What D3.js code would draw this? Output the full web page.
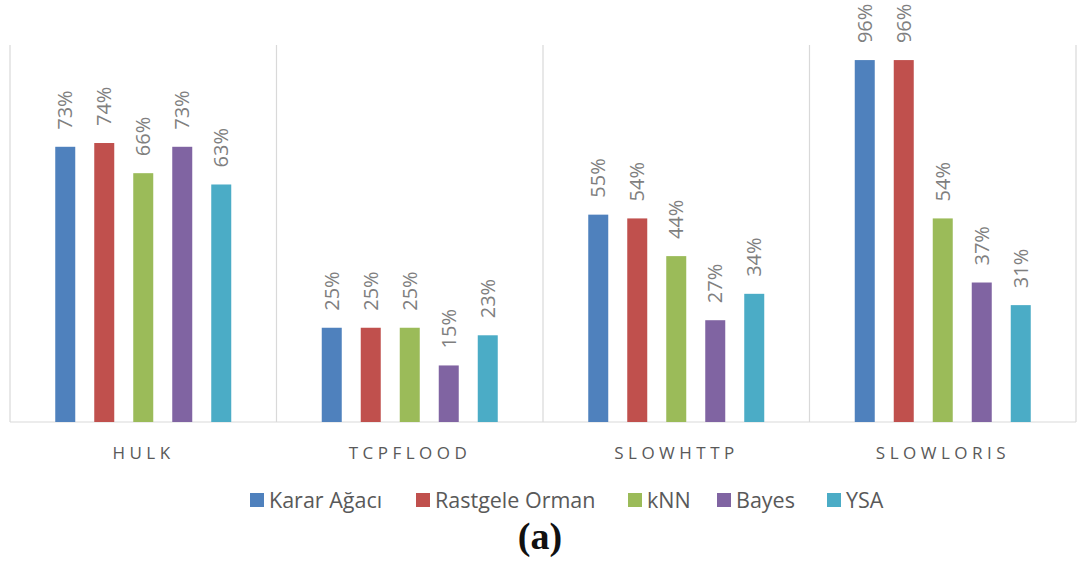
<!DOCTYPE html>
<html>
<head>
<meta charset="utf-8">
<script src="https://cdn.jsdelivr.net/npm/d3@7"></script>
<style>
  body { margin: 0; background: #fff; }
  .sans { font-family: "Open Sans", Lato, sans-serif; }
</style>
</head>
<body>
<div id="chart"></div>
<script>
const categories = ["HULK", "TCPFLOOD", "SLOWHTTP", "SLOWLORIS"];
const seriesNames = ["Karar Ağacı", "Rastgele Orman", "kNN", "Bayes", "YSA"];
const karar = [0.73, 0.25, 0.55, 0.96];
const rastgele = [0.74, 0.25, 0.54, 0.96];
const knn = [0.66, 0.25, 0.44, 0.54];
const bayes = [0.73, 0.15, 0.27, 0.37];
const ysa = [0.63, 0.23, 0.34, 0.31];
const seriesValues = [karar, rastgele, knn, bayes, ysa];
const colors = ["#4f81bd", "#c0504d", "#9bbb59", "#8064a2", "#4bacc6"];

const width = 1086, height = 565;
const plot = { left: 10, right: 1076, top: 45, bottom: 422 };

const svg = d3.select("#chart").append("svg")
    .attr("width", width)
    .attr("height", height);

const x0 = d3.scaleBand()
    .domain(categories)
    .range([plot.left, plot.right]);

// 5 slots of 39px centred in each category band
const slot = 39;
const x1 = d3.scaleBand()
    .domain(seriesNames)
    .range([x0.bandwidth() / 2 - slot * 2.5, x0.bandwidth() / 2 + slot * 2.5]);

const y = d3.scaleLinear().domain([0, 1]).range([plot.bottom, plot.top]);

// category separators
const seps = d3.range(categories.length + 1).map(i => plot.left + i * x0.bandwidth());
svg.append("g").selectAll("line")
    .data(seps)
    .join("line")
    .attr("x1", d => d).attr("x2", d => d)
    .attr("y1", y(1)).attr("y2", y(0))
    .attr("stroke", "#d9d9d9").attr("stroke-width", 1.2);

svg.append("line")
    .attr("x1", plot.left).attr("x2", plot.right)
    .attr("y1", y(0)).attr("y2", y(0))
    .attr("stroke", "#d9d9d9").attr("stroke-width", 1.2);

// bars
const rows = [];
categories.forEach((c, ci) => {
    seriesNames.forEach((s, si) => {
        rows.push({ cat: c, series: s, value: seriesValues[si][ci], color: colors[si] });
    });
});

const barW = 20;
const cx = d => x0(d.cat) + x1(d.series) + x1.bandwidth() / 2;

svg.append("g").selectAll("rect")
    .data(rows)
    .join("rect")
    .attr("x", d => cx(d) - barW / 2)
    .attr("width", barW)
    .attr("y", d => y(d.value))
    .attr("height", d => y(0) - y(d.value))
    .attr("fill", d => d.color);

// value labels
svg.append("g").selectAll("text")
    .data(rows)
    .join("text")
    .attr("class", "sans")
    .attr("transform", d => `translate(${cx(d)},${y(d.value) - 17}) rotate(-90)`)
    .attr("dy", "0.36em")
    .attr("text-anchor", "start")
    .attr("fill", "#7f7f7f")
    .attr("font-size", 20)
    .text(d => Math.round(d.value * 100) + "%");

// category labels
const spacing = 4.5;
svg.append("g").selectAll("text")
    .data(categories)
    .join("text")
    .attr("class", "sans")
    .attr("x", d => x0(d) + x0.bandwidth() / 2 + spacing / 2 - 2)
    .attr("y", 459)
    .attr("text-anchor", "middle")
    .attr("fill", "#595959")
    .attr("font-size", 17)
    .attr("letter-spacing", spacing + "px")
    .text(d => d);

// legend
const legendX = [250, 416, 628, 717, 827];
const legend = svg.append("g").selectAll("g")
    .data(seriesNames)
    .join("g")
    .attr("transform", (d, i) => `translate(${legendX[i]},500)`);

legend.append("rect")
    .attr("x", 0).attr("y", -7)
    .attr("width", 14).attr("height", 14)
    .attr("fill", (d, i) => colors[i]);

legend.append("text")
    .attr("class", "sans")
    .attr("x", 19).attr("y", 0)
    .attr("dy", "0.36em")
    .attr("fill", "#595959")
    .attr("font-size", 21.5)
    .text(d => d);

// figure caption
svg.append("text")
    .attr("x", 540).attr("y", 549)
    .attr("text-anchor", "middle")
    .style("font-family", "'Liberation Serif', 'DejaVu Serif', serif")
    .style("font-weight", "bold")
    .attr("font-size", 38)
    .attr("fill", "#111")
    .text("(a)");
</script>
</body>
</html>
